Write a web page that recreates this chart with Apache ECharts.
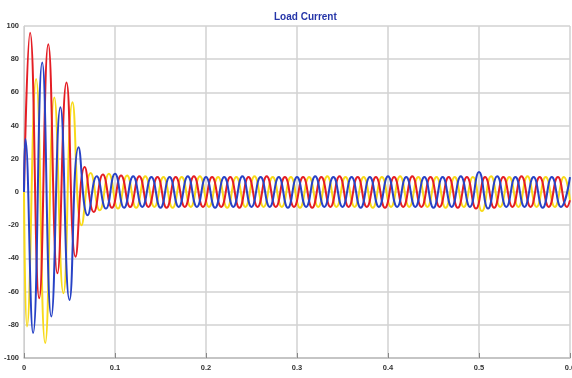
<!DOCTYPE html>
<html>
<head>
<meta charset="utf-8">
<script src="https://cdn.jsdelivr.net/npm/echarts@6/dist/echarts.min.js"></script>
<style>
  html, body { margin: 0; padding: 0; background: #ffffff; }
  #chart { width: 572px; height: 378px; }
</style>
</head>
<body>
<div id="chart"></div>
<script>
// Three-phase load current: extrema (peaks / troughs) of each phase, time in s, current in A
const blueT = [0, 0.0015, 0.01, 0.02, 0.03, 0.04, 0.05, 0.06, 0.07, 0.08, 0.09,
  0.10, 0.11, 0.12, 0.13, 0.14, 0.15, 0.16, 0.17, 0.18, 0.19,
  0.20, 0.21, 0.22, 0.23, 0.24, 0.25, 0.26, 0.27, 0.28, 0.29,
  0.30, 0.31, 0.32, 0.33, 0.34, 0.35, 0.36, 0.37, 0.38, 0.39,
  0.40, 0.41, 0.42, 0.43, 0.44, 0.45, 0.46, 0.47, 0.48, 0.49,
  0.50, 0.51, 0.52, 0.53, 0.54, 0.55, 0.56, 0.57, 0.58, 0.59, 0.60];
const blueI = [0, 32, -85, 78, -75, 51, -65, 27, -14, 9.5, -10,
  11, -9.5, 9.5, -9, 9, -9.5, 9, -9, 9.5, -9,
  9, -9.5, 9, -9, 9.5, -9, 9, -9, 9, -9.5,
  9, -9, 9.5, -9, 9, -9, 9, -9.5, 9, -9,
  9.5, -9, 9, -9, 9, -9.5, 9, -9, 9.5, -9,
  12, -10, 9.5, -9, 9, -9, 9, -9.5, 9, -9, 9];

const redT = [0, 0.0067, 0.0167, 0.0267, 0.0367, 0.0467, 0.0567, 0.0667, 0.0767, 0.0867, 0.0967,
  0.1067, 0.1167, 0.1267, 0.1367, 0.1467, 0.1567, 0.1667, 0.1767, 0.1867, 0.1967,
  0.2067, 0.2167, 0.2267, 0.2367, 0.2467, 0.2567, 0.2667, 0.2767, 0.2867, 0.2967,
  0.3067, 0.3167, 0.3267, 0.3367, 0.3467, 0.3567, 0.3667, 0.3767, 0.3867, 0.3967,
  0.4067, 0.4167, 0.4267, 0.4367, 0.4467, 0.4567, 0.4667, 0.4767, 0.4867, 0.4967,
  0.5067, 0.5167, 0.5267, 0.5367, 0.5467, 0.5567, 0.5667, 0.5767, 0.5867, 0.5967, 0.6];
const redI = [0, 96, -64, 89, -49, 66, -39, 15, -12, 10.5, -9.5,
  10, -9, 9.5, -9, 9, -9.5, 9, -9, 9.5, -9,
  9, -9, 9, -9.5, 9, -9, 9.5, -9, 9, -9,
  9, -9.5, 9, -9, 9.5, -9, 9, -9, 9, -9.5,
  9, -9, 9.5, -9, 9, -9, 9, -9.5, 9, -10,
  9, -9.5, 9, -9, 9.5, -9, 9, -9, 9, -9, -5];

const yellowT = [0, 0.0033, 0.0133, 0.0233, 0.0333, 0.0433, 0.0533, 0.0633, 0.0733, 0.0833, 0.0933,
  0.1033, 0.1133, 0.1233, 0.1333, 0.1433, 0.1533, 0.1633, 0.1733, 0.1833, 0.1933,
  0.2033, 0.2133, 0.2233, 0.2333, 0.2433, 0.2533, 0.2633, 0.2733, 0.2833, 0.2933,
  0.3033, 0.3133, 0.3233, 0.3333, 0.3433, 0.3533, 0.3633, 0.3733, 0.3833, 0.3933,
  0.4033, 0.4133, 0.4233, 0.4333, 0.4433, 0.4533, 0.4633, 0.4733, 0.4833, 0.4933,
  0.5033, 0.5133, 0.5233, 0.5333, 0.5433, 0.5533, 0.5633, 0.5733, 0.5833, 0.5933, 0.6];
const yellowI = [0, -81, 68, -91, 57, -61, 54, -20, 11.5, -11, 11,
  -10, 10, -9.5, 9.5, -9, 9, -9.5, 9, -9, 9.5,
  -9, 9, -9.5, 9, -9, 9.5, -9, 9, -9, 9,
  -9.5, 9, -9, 9.5, -9, 9, -9, 9, -9.5, 9,
  -9, 9.5, -9, 9, -9, 9, -9.5, 9, -9, 9,
  -11.5, 9.5, -9, 9, -9, 9.5, -9, 9, -9, 9, -5];

const yTicks = [-100, -80, -60, -40, -20, 0, 20, 40, 60, 80, 100];

const pairs = (t, v) => t.map((x, i) => [x, v[i]]);

const chart = echarts.init(document.getElementById('chart'), null, { renderer: 'canvas' });

const narrow = 'Liberation Sans Narrow, Liberation Sans, Arial, sans-serif';
const gridLine = { show: true, lineStyle: { color: '#d2d2d2', width: 1.5 } };
const tickFont = { fontFamily: narrow, fontSize: 7.5, fontWeight: 'bold', color: '#333' };

chart.setOption({
  backgroundColor: '#ffffff',
  animation: false,
  title: {
    text: 'Load Current',
    left: 269,
    top: 7,
    textStyle: { fontFamily: narrow, fontSize: 10, fontWeight: 'bold', color: '#2535a8' }
  },
  grid: { left: 24, right: 2, top: 26, bottom: 20, show: false, containLabel: false, outerBoundsMode: 'none' },
  xAxis: {
    type: 'value',
    min: 0,
    max: 0.6,
    interval: 0.1,
    axisLine: { show: true, onZero: false, lineStyle: { color: '#bdbdbd', width: 1.5 } },
    axisTick: { show: true, inside: true, length: 5, lineStyle: { color: '#888' } },
    axisLabel: Object.assign({ margin: 6, formatter: v => (v === 0 ? '0' : String(+v.toFixed(1))) }, tickFont),
    splitLine: gridLine
  },
  yAxis: {
    type: 'value',
    min: yTicks[0],
    max: yTicks[yTicks.length - 1],
    interval: 20,
    name: '{i|i}{s|L}{u| (A)}',
    nameLocation: 'middle',
    nameGap: 12,
    nameRotate: 90,
    nameTextStyle: {
      rich: {
        i: { fontFamily: narrow, fontSize: 7.5, fontWeight: 'bold', color: '#333' },
        s: { fontFamily: narrow, fontSize: 5, fontWeight: 'bold', color: '#333', verticalAlign: 'bottom', padding: [4, 0, 0, 0] },
        u: { fontFamily: narrow, fontSize: 7.5, fontWeight: 'bold', color: '#333' }
      }
    },
    axisLine: { show: true, lineStyle: { color: '#cfcfcf', width: 1 } },
    axisTick: { show: false },
    axisLabel: Object.assign({ margin: 5 }, tickFont),
    splitLine: gridLine
  },
  series: [
    { name: 'Phase c', type: 'line', data: pairs(yellowT, yellowI), showSymbol: false, smooth: 0.5,
      lineStyle: { color: '#f8da1a', width: 2 }, itemStyle: { color: '#f8da1a' } },
    { name: 'Phase a', type: 'line', data: pairs(redT, redI), showSymbol: false, smooth: 0.5,
      lineStyle: { color: '#e41d24', width: 2 }, itemStyle: { color: '#e41d24' } },
    { name: 'Phase b', type: 'line', data: pairs(blueT, blueI), showSymbol: false, smooth: 0.5,
      lineStyle: { color: '#2742c6', width: 2 }, itemStyle: { color: '#2742c6' } }
  ]
});
</script>
</body>
</html>
